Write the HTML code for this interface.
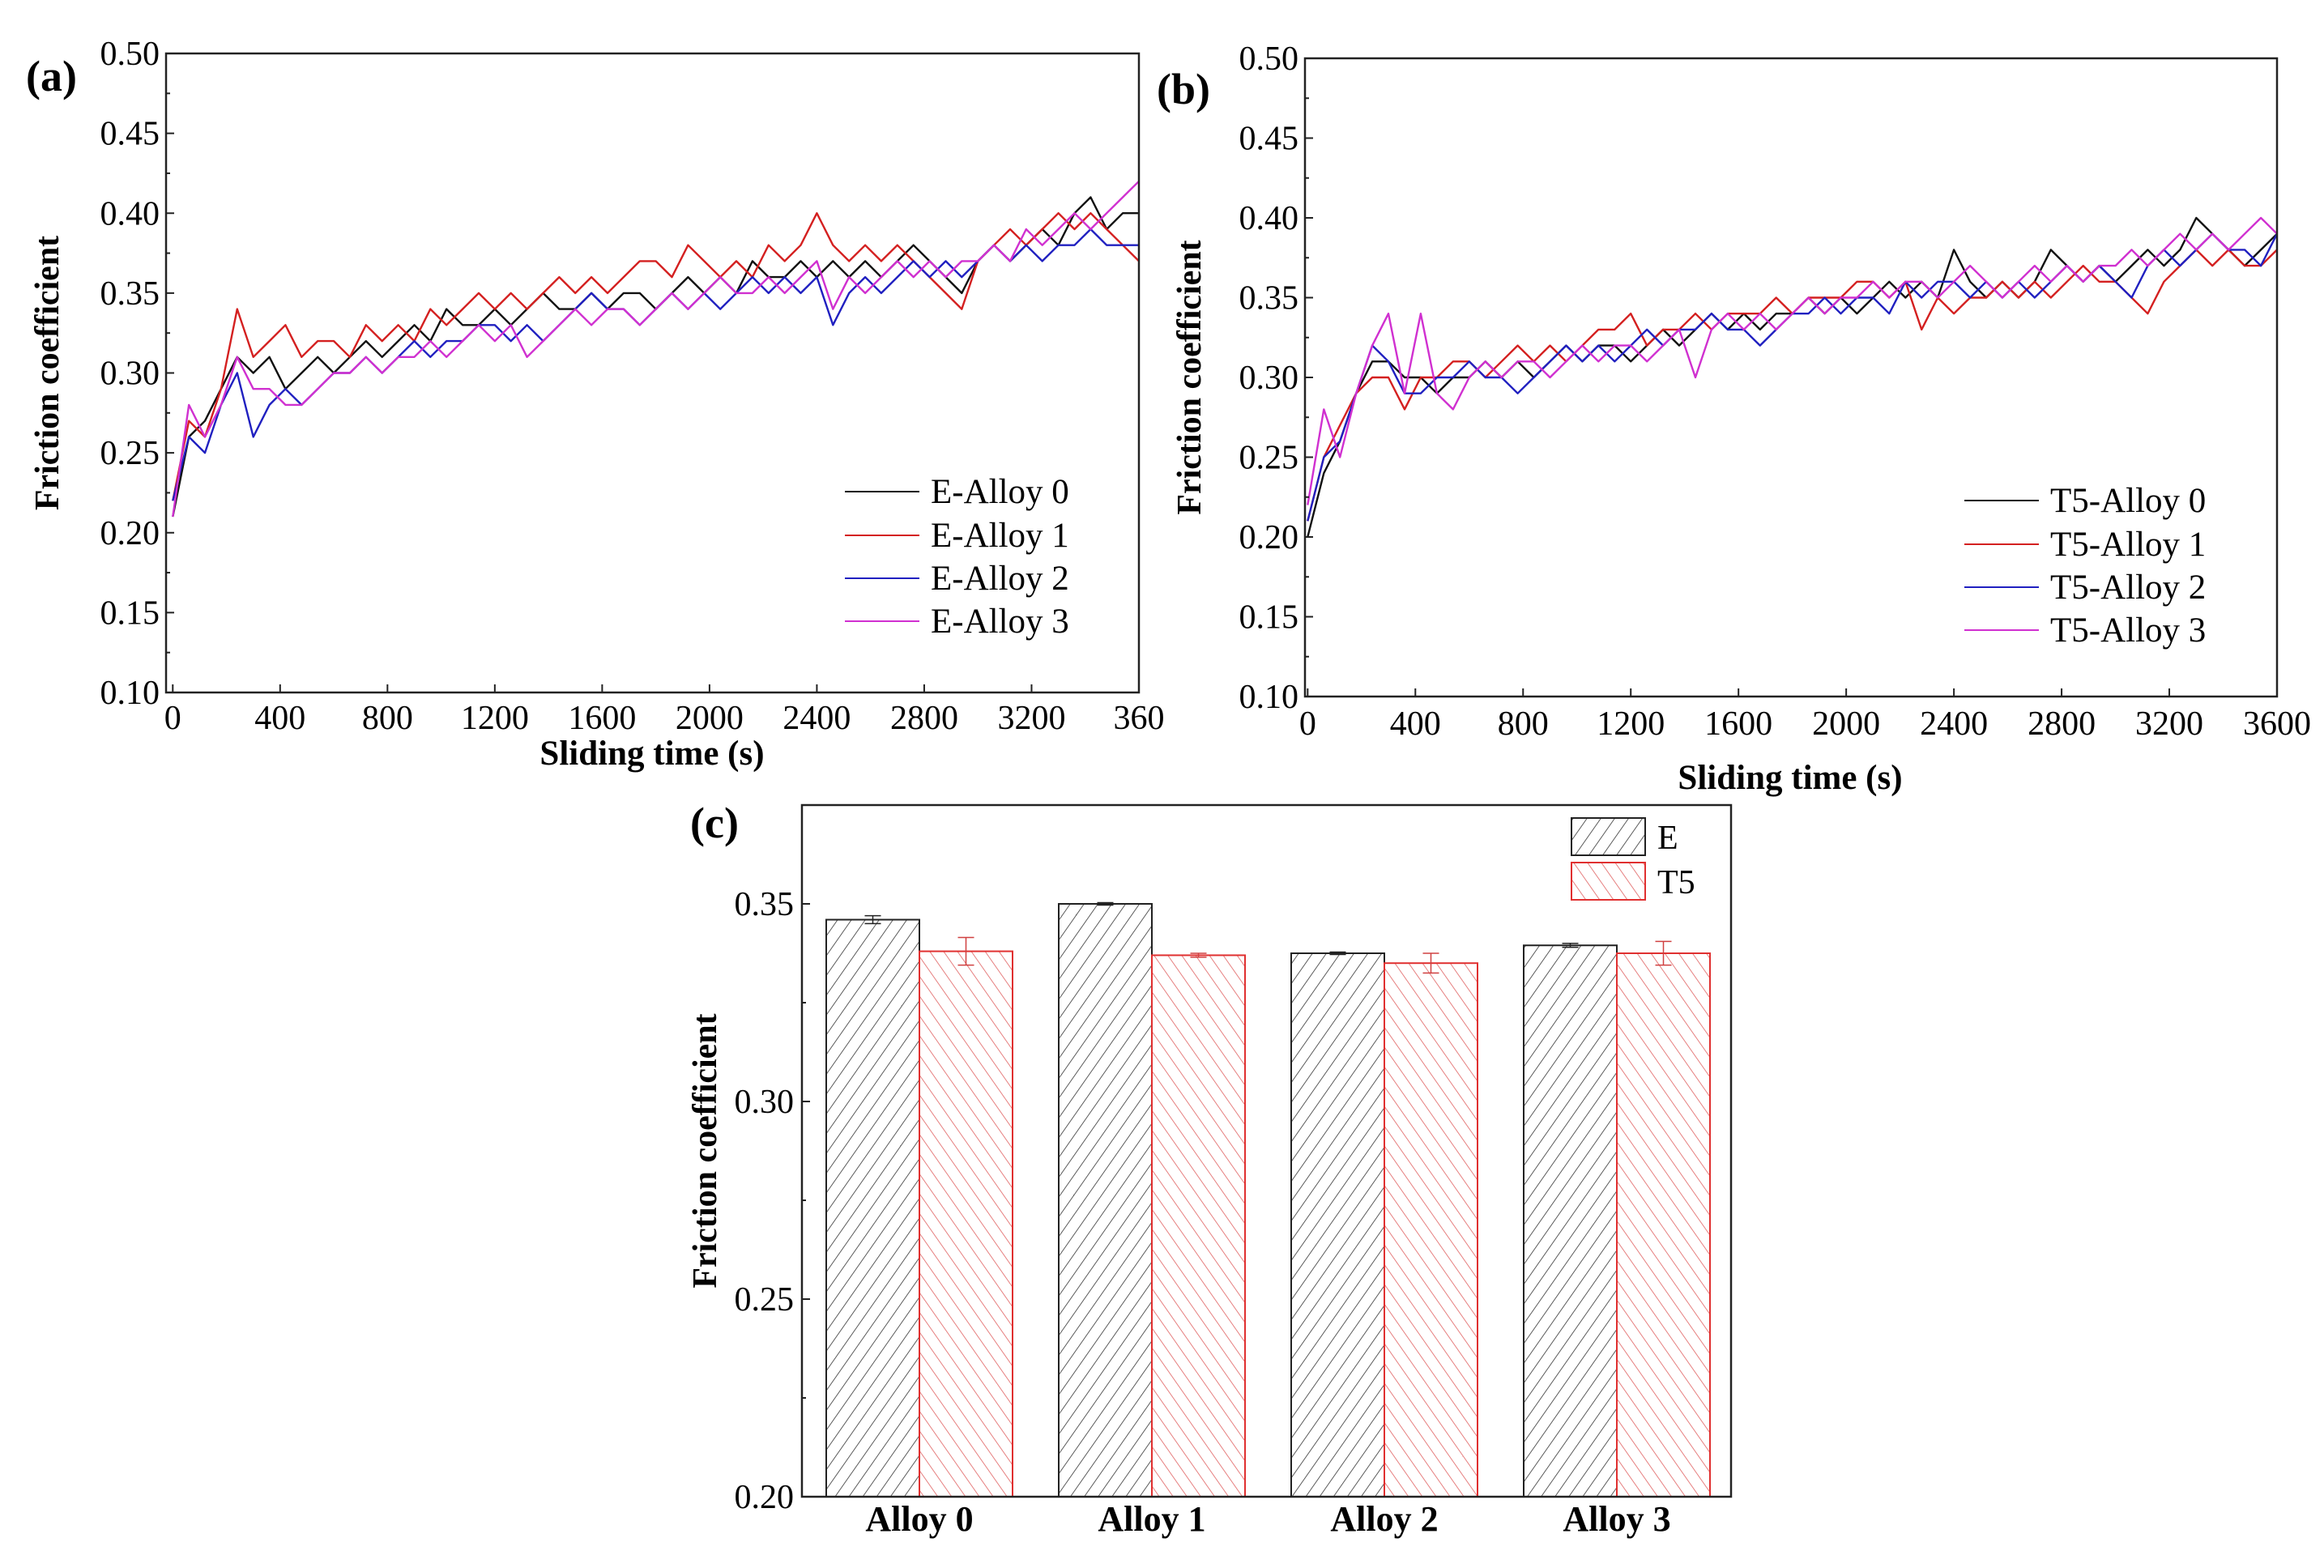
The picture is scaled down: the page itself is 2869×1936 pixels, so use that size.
<!DOCTYPE html>
<html><head><meta charset="utf-8"><style>
html,body{margin:0;padding:0;background:#fff;}
svg{display:block;font-family:"Liberation Serif",serif;}
</style></head><body>
<svg id="fig" width="2869" height="1936" viewBox="0 0 2869 1936" xmlns="http://www.w3.org/2000/svg">
<defs>
<pattern id="hatchE" patternUnits="userSpaceOnUse" width="14" height="14" patternTransform="rotate(35)"><line x1="0" y1="0" x2="0" y2="14" stroke="#333" stroke-width="1.6"/></pattern>
<pattern id="hatchT" patternUnits="userSpaceOnUse" width="14" height="14" patternTransform="rotate(-35)"><line x1="0" y1="0" x2="0" y2="14" stroke="#e06060" stroke-width="1.6"/></pattern>
</defs>
</svg>
<script>
const times=[0,60,120,180,240,300,360,420,480,540,600,660,720,780,840,900,960,1020,1080,1140,1200,1260,1320,1380,1440,1500,1560,1620,1680,1740,1800,1860,1920,1980,2040,2100,2160,2220,2280,2340,2400,2460,2520,2580,2640,2700,2760,2820,2880,2940,3000,3060,3120,3180,3240,3300,3360,3420,3480,3540,3600];
const eAlloy0=[0.21,0.26,0.27,0.29,0.31,0.30,0.31,0.29,0.30,0.31,0.30,0.31,0.32,0.31,0.32,0.33,0.32,0.34,0.33,0.33,0.34,0.33,0.34,0.35,0.34,0.34,0.35,0.34,0.35,0.35,0.34,0.35,0.36,0.35,0.36,0.35,0.37,0.36,0.36,0.37,0.36,0.37,0.36,0.37,0.36,0.37,0.38,0.37,0.36,0.35,0.37,0.38,0.37,0.38,0.39,0.38,0.40,0.41,0.39,0.40,0.40];
const eAlloy1=[0.22,0.27,0.26,0.29,0.34,0.31,0.32,0.33,0.31,0.32,0.32,0.31,0.33,0.32,0.33,0.32,0.34,0.33,0.34,0.35,0.34,0.35,0.34,0.35,0.36,0.35,0.36,0.35,0.36,0.37,0.37,0.36,0.38,0.37,0.36,0.37,0.36,0.38,0.37,0.38,0.40,0.38,0.37,0.38,0.37,0.38,0.37,0.36,0.35,0.34,0.37,0.38,0.39,0.38,0.39,0.40,0.39,0.40,0.39,0.38,0.37];
const eAlloy2=[0.22,0.26,0.25,0.28,0.30,0.26,0.28,0.29,0.28,0.29,0.30,0.30,0.31,0.30,0.31,0.32,0.31,0.32,0.32,0.33,0.33,0.32,0.33,0.32,0.33,0.34,0.35,0.34,0.34,0.33,0.34,0.35,0.34,0.35,0.34,0.35,0.36,0.35,0.36,0.35,0.36,0.33,0.35,0.36,0.35,0.36,0.37,0.36,0.37,0.36,0.37,0.38,0.37,0.38,0.37,0.38,0.38,0.39,0.38,0.38,0.38];
const eAlloy3=[0.21,0.28,0.26,0.28,0.31,0.29,0.29,0.28,0.28,0.29,0.30,0.30,0.31,0.30,0.31,0.31,0.32,0.31,0.32,0.33,0.32,0.33,0.31,0.32,0.33,0.34,0.33,0.34,0.34,0.33,0.34,0.35,0.34,0.35,0.36,0.35,0.35,0.36,0.35,0.36,0.37,0.34,0.36,0.35,0.36,0.37,0.36,0.37,0.36,0.37,0.37,0.38,0.37,0.39,0.38,0.39,0.40,0.39,0.40,0.41,0.42];
const t5Alloy0=[0.20,0.24,0.26,0.29,0.31,0.31,0.30,0.30,0.29,0.30,0.30,0.31,0.30,0.31,0.30,0.31,0.32,0.31,0.32,0.32,0.31,0.32,0.33,0.32,0.33,0.34,0.33,0.34,0.33,0.34,0.34,0.35,0.34,0.35,0.34,0.35,0.36,0.35,0.36,0.35,0.38,0.36,0.35,0.36,0.35,0.36,0.38,0.37,0.36,0.37,0.36,0.37,0.38,0.37,0.38,0.40,0.39,0.38,0.37,0.38,0.39];
const t5Alloy1=[0.21,0.25,0.27,0.29,0.30,0.30,0.28,0.30,0.30,0.31,0.31,0.30,0.31,0.32,0.31,0.32,0.31,0.32,0.33,0.33,0.34,0.32,0.33,0.33,0.34,0.33,0.34,0.34,0.34,0.35,0.34,0.35,0.35,0.35,0.36,0.36,0.35,0.36,0.33,0.35,0.34,0.35,0.35,0.36,0.35,0.36,0.35,0.36,0.37,0.36,0.36,0.35,0.34,0.36,0.37,0.38,0.37,0.38,0.37,0.37,0.38];
const t5Alloy2=[0.21,0.25,0.26,0.29,0.32,0.31,0.29,0.29,0.30,0.30,0.31,0.30,0.30,0.29,0.30,0.31,0.32,0.31,0.32,0.31,0.32,0.33,0.32,0.33,0.33,0.34,0.33,0.33,0.32,0.33,0.34,0.34,0.35,0.34,0.35,0.35,0.34,0.36,0.35,0.36,0.36,0.35,0.36,0.35,0.36,0.35,0.36,0.37,0.36,0.37,0.36,0.35,0.37,0.38,0.37,0.38,0.39,0.38,0.38,0.37,0.39];
const t5Alloy3=[0.22,0.28,0.25,0.29,0.32,0.34,0.29,0.34,0.29,0.28,0.30,0.31,0.30,0.31,0.31,0.30,0.31,0.32,0.31,0.32,0.32,0.31,0.32,0.33,0.30,0.33,0.34,0.33,0.34,0.33,0.34,0.35,0.34,0.35,0.35,0.36,0.35,0.36,0.36,0.35,0.36,0.37,0.36,0.35,0.36,0.37,0.36,0.37,0.36,0.37,0.37,0.38,0.37,0.38,0.39,0.38,0.39,0.38,0.39,0.40,0.39];
const xTicks=[0,400,800,1200,1600,2000,2400,2800,3200,3600];
const xTickLabelsA=["0","400","800","1200","1600","2000","2400","2800","3200","360"];
const xTickLabelsB=["0","400","800","1200","1600","2000","2400","2800","3200","3600"];
const yTicks=[0.10,0.15,0.20,0.25,0.30,0.35,0.40,0.45,0.50];
const barCategories=["Alloy 0","Alloy 1","Alloy 2","Alloy 3"];
const barE=[0.346,0.350,0.3375,0.3395];
const barT5=[0.338,0.337,0.335,0.3375];
const errE=[0.001,0.0003,0.0003,0.0005];
const errT5=[0.0035,0.0005,0.0025,0.003];
const barYTicks=[0.20,0.25,0.30,0.35];

const NS="http://www.w3.org/2000/svg";
const svg=document.getElementById('fig');
function mk(tag,attrs,parent,text){const e=document.createElementNS(NS,tag);for(const k in attrs)e.setAttribute(k,attrs[k]);if(text!==undefined)e.textContent=text;(parent||svg).appendChild(e);return e;}

function linePanel(cfg){
  const g=mk('g',{});
  
  
  const sx=v=>cfg.x0+(v-cfg.xmin)/(cfg.xmax-cfg.xmin)*(cfg.x1-cfg.x0);
  const sy=v=>cfg.yb-(v-0.10)/(0.40)*(cfg.yb-cfg.yt);
  const cols=['#111','#d42020','#2020c0','#d030d0'];
  cfg.series.forEach((s,i)=>{
    let d='';s.forEach((v,j)=>{d+=(j?'L':'M')+sx(times[j]).toFixed(1)+','+sy(v).toFixed(1);});
    const p=mk('path',{d:d,fill:'none',stroke:cols[i],'stroke-width':2.4,'stroke-linejoin':'round'},g);
    
    
  });
  const fr=mk('rect',{x:cfg.x0,y:cfg.yt,width:cfg.x1-cfg.x0,height:cfg.yb-cfg.yt,fill:'none',stroke:'#222','stroke-width':2.5},g);
  
  
  yTicks.forEach((v,i)=>{
    const y=sy(v);
    mk('line',{x1:cfg.x0,x2:cfg.x0+10,y1:y,y2:y,stroke:'#222','stroke-width':2},g);
    if(i<yTicks.length-1){const ym=sy(v+0.025);mk('line',{x1:cfg.x0,x2:cfg.x0+5,y1:ym,y2:ym,stroke:'#222','stroke-width':2},g);}
    const t=mk('text',{x:cfg.x0-8,y:y+14,'text-anchor':'end','font-size':42},g,v.toFixed(2));
    
    
  });
  xTicks.forEach((v,i)=>{
    const x=sx(v);
    mk('line',{x1:x,x2:x,y1:cfg.yb,y2:cfg.yb-10,stroke:'#222','stroke-width':2},g);
    const t=mk('text',{x:x,y:cfg.xly,'text-anchor':'middle','font-size':42},g,cfg.xlabels[i]);
    
    
  });
  const yt=mk('text',{x:0,y:0,transform:`translate(${cfg.ytx},${(cfg.yt+cfg.yb)/2}) rotate(-90)`,'text-anchor':'middle','font-size':42,'font-weight':'bold'},g,'Friction coefficient');
  
  
  const xt=mk('text',{x:cfg.xtx,y:cfg.xty,'text-anchor':'middle','font-size':43,'font-weight':'bold'},g,'Sliding time (s)');
  
  
  const pl=mk('text',{x:cfg.plx,y:cfg.ply,'font-size':54,'font-weight':'bold'},g,cfg.panel);
  
  
  cfg.labels.forEach((lab,i)=>{
    const y=cfg.legY[i];
    const le=mk('g',{},g);
    
    
    mk('line',{x1:cfg.legX,x2:cfg.legX+92,y1:y,y2:y,stroke:cols[i],'stroke-width':2},le);
    mk('text',{x:cfg.legX+106,y:y+14,'font-size':43},le,lab);
  });
}
linePanel({name:'chart-a',panel:'(a)',x0:205,x1:1406,xmin:-25,xmax:3600,yt:66,yb:855,series:[eAlloy0,eAlloy1,eAlloy2,eAlloy3],labels:['E-Alloy 0','E-Alloy 1','E-Alloy 2','E-Alloy 3'],xlabels:xTickLabelsA,xly:900,ytx:72,xtx:805,xty:944,plx:32,ply:112,legX:1043,legY:[607,661,714,767]});
linePanel({name:'chart-b',panel:'(b)',x0:1611,x1:2811,xmin:-10,xmax:3600,yt:72,yb:860,series:[t5Alloy0,t5Alloy1,t5Alloy2,t5Alloy3],labels:['T5-Alloy 0','T5-Alloy 1','T5-Alloy 2','T5-Alloy 3'],xlabels:xTickLabelsB,xly:907,ytx:1482,xtx:2210,xty:974,plx:1428,ply:128,legX:2425,legY:[618,672,725,778]});

(function(){
  const g=mk('g',{});
  
  
  const x0=990,x1=2137,yt=994,yb=1848;
  const sy=v=>yb-(v-0.20)/0.175*(yb-yt);
  const groupX=i=>1135+i*287;
  const bw=115;
  barCategories.forEach((c,i)=>{
    const cx=groupX(i);
    const b1=mk('rect',{x:cx-bw,y:sy(barE[i]),width:bw,height:yb-sy(barE[i]),fill:'url(#hatchE)',stroke:'#222','stroke-width':2},g);
    
    
    const b2=mk('rect',{x:cx,y:sy(barT5[i]),width:bw,height:yb-sy(barT5[i]),fill:'url(#hatchT)',stroke:'#e03030','stroke-width':2},g);
    
    
    [[cx-bw/2,barE[i],errE[i],'#222'],[cx+bw/2,barT5[i],errT5[i],'#d04040']].forEach(a=>{
      const e=mk('path',{d:`M${a[0]},${sy(a[1]+a[2])}V${sy(a[1]-a[2])}M${a[0]-10},${sy(a[1]+a[2])}h20M${a[0]-10},${sy(a[1]-a[2])}h20`,stroke:a[3],'stroke-width':1.5,fill:'none'},g);
      
      
    });
    const t=mk('text',{x:cx,y:1890,'text-anchor':'middle','font-size':44,'font-weight':'bold'},g,c);
    
    
  });
  const fr=mk('rect',{x:x0,y:yt,width:x1-x0,height:yb-yt,fill:'none',stroke:'#222','stroke-width':2.5},g);
  
  
  barYTicks.forEach(v=>{
    const y=sy(v);
    mk('line',{x1:x0,x2:x0+10,y1:y,y2:y,stroke:'#222','stroke-width':2},g);
    const ym=sy(v+0.025);mk('line',{x1:x0,x2:x0+5,y1:ym,y2:ym,stroke:'#222','stroke-width':2},g);
    const t=mk('text',{x:x0-10,y:y+14,'text-anchor':'end','font-size':42},g,v.toFixed(2));
    
    
  });
  const yt2=mk('text',{x:0,y:0,transform:`translate(884,${(yt+yb)/2}) rotate(-90)`,'text-anchor':'middle','font-size':42,'font-weight':'bold'},g,'Friction coefficient');
  
  
  const pl=mk('text',{x:852,y:1034,'font-size':54,'font-weight':'bold'},g,'(c)');
  
  
  const l1=mk('g',{},g);
  
  
  mk('rect',{x:1940,y:1010,width:91,height:46,fill:'url(#hatchE)',stroke:'#222','stroke-width':2},l1);
  mk('text',{x:2046,y:1048,'font-size':42},l1,'E');
  const l2=mk('g',{},g);
  
  
  mk('rect',{x:1940,y:1065,width:91,height:46,fill:'url(#hatchT)',stroke:'#e03030','stroke-width':2},l2);
  mk('text',{x:2046,y:1103,'font-size':42},l2,'T5');
})();
</script>
</body></html>
